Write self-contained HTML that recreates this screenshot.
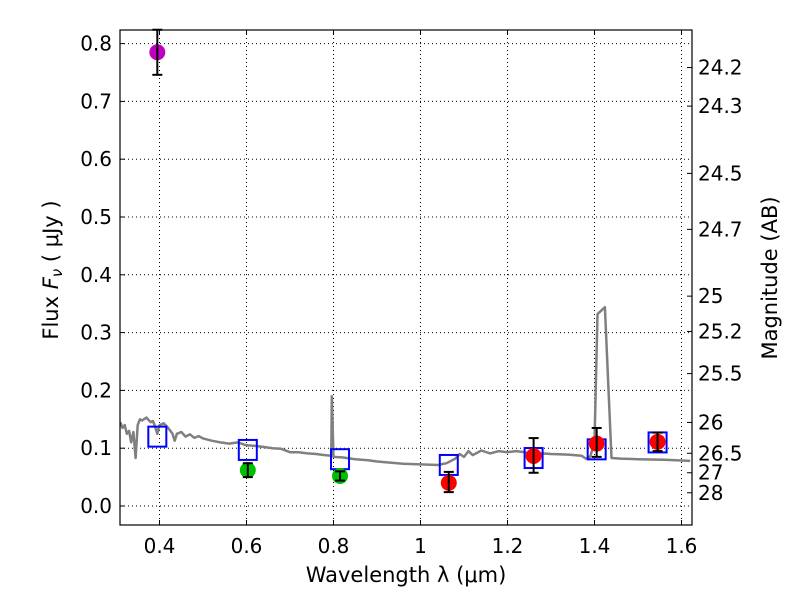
<!DOCTYPE html>
<html><head><meta charset="utf-8"><style>
html,body{margin:0;padding:0;background:#fff;}
svg text{font-family:"DejaVu Sans","Liberation Sans",sans-serif;fill:#000;}
</style></head><body>
<svg id="chart" width="800" height="600" viewBox="0 0 800 600" xmlns="http://www.w3.org/2000/svg"></svg>
<script>
const xTicks=[0.4,0.6,0.8,1.0,1.2,1.4,1.6];
const xTickLabels=["0.4","0.6","0.8","1","1.2","1.4","1.6"];
const yTicks=[0,0.1,0.2,0.3,0.4,0.5,0.6,0.7,0.8];
const yTickLabels=["0.0","0.1","0.2","0.3","0.4","0.5","0.6","0.7","0.8"];
const magTicks=[24.2,24.3,24.5,24.7,25,25.2,25.5,26,26.5,27,28];
const magTickLabels=["24.2","24.3","24.5","24.7","25","25.2","25.5","26","26.5","27","28"];
const modelWave=[0.395,0.603,0.815,1.065,1.26,1.405,1.545];
const modelFlux=[0.120,0.097,0.081,0.071,0.083,0.098,0.110];
const obsWave=[0.395,0.603,0.815,1.065,1.26,1.405,1.545];
const obsFlux=[0.785,0.062,0.052,0.040,0.0865,0.108,0.111];
const obsErrLo=[0.039,0.012,0.008,0.016,0.029,0.023,0.016];
const obsErrHi=[0.039,0.012,0.008,0.019,0.031,0.027,0.016];
const obsColor=["#bf00bf","#00bf00","#00bf00","#ff0000","#ff0000","#ff0000","#ff0000"];
const specWave=[0.31,0.315,0.32,0.325,0.33,0.335,0.34,0.345,0.35,0.355,0.36,0.37,0.38,0.385,0.39,0.395,0.40,0.41,0.42,0.43,0.435,0.44,0.45,0.46,0.47,0.48,0.49,0.50,0.52,0.54,0.56,0.58,0.60,0.62,0.64,0.66,0.68,0.70,0.72,0.74,0.76,0.78,0.795,0.796,0.80,0.82,0.85,0.88,0.90,0.93,0.96,1.00,1.04,1.06,1.08,1.09,1.10,1.11,1.12,1.14,1.16,1.18,1.20,1.22,1.24,1.26,1.28,1.30,1.34,1.37,1.38,1.39,1.40,1.407,1.424,1.439,1.46,1.50,1.56,1.62];
const specFlux=[0.145,0.135,0.140,0.125,0.130,0.110,0.128,0.083,0.140,0.150,0.148,0.153,0.145,0.147,0.137,0.125,0.140,0.143,0.135,0.125,0.113,0.125,0.128,0.120,0.124,0.118,0.121,0.117,0.113,0.110,0.108,0.110,0.105,0.104,0.102,0.100,0.099,0.093,0.093,0.091,0.090,0.088,0.087,0.19,0.085,0.084,0.081,0.079,0.077,0.075,0.073,0.072,0.071,0.074,0.082,0.090,0.085,0.095,0.088,0.096,0.091,0.095,0.093,0.095,0.093,0.088,0.091,0.090,0.089,0.087,0.082,0.085,0.110,0.332,0.344,0.083,0.082,0.081,0.080,0.078];

const svg=document.getElementById('chart');
const NS="http://www.w3.org/2000/svg";
const L=120,R=692,T=30,B=525;
const X0=0.4,XPX0=159.5,XS=435;
const YPX0=506,YS=578;
function xs(v){return XPX0+(v-X0)*XS;}
function ys(v){return YPX0-v*YS;}
function magToY(m){return ys(Math.pow(10,(23.9-m)/2.5));}
function mk(tag,attrs,parent){const e=document.createElementNS(NS,tag);for(const k in attrs)e.setAttribute(k,attrs[k]);(parent||svg).appendChild(e);return e;}

const grid=mk('g',{});


xTicks.forEach((v,i)=>{
  const x=xs(v);
  const gl=mk('line',{x1:x,x2:x,y1:T,y2:B,stroke:'#000','stroke-width':1,'stroke-dasharray':'1,3'},grid);
  
  
  mk('line',{x1:x,x2:x,y1:B,y2:B-5,stroke:'#000'},grid);
  mk('line',{x1:x,x2:x,y1:T,y2:T+5,stroke:'#000'},grid);
  const t=mk('text',{x:x,y:B+28,'text-anchor':'middle','font-size':20});
  t.textContent=xTickLabels[i];
  
  
});
yTicks.forEach((v,i)=>{
  const y=ys(v);
  const gl=mk('line',{x1:L,x2:R,y1:y,y2:y,stroke:'#000','stroke-width':1,'stroke-dasharray':'1,3'},grid);
  
  
  mk('line',{x1:L,x2:L+5,y1:y,y2:y,stroke:'#000'},grid);
  const t=mk('text',{x:L-8,y:y+7,'text-anchor':'end','font-size':20});
  t.textContent=yTickLabels[i];
  
  
});
magTicks.forEach((m,i)=>{
  const y=magToY(m);
  mk('line',{x1:R,x2:R-5,y1:y,y2:y,stroke:'#000'});
  const t=mk('text',{x:R+6,y:y+7,'text-anchor':'start','font-size':20});
  t.textContent=magTickLabels[i];
  
  
});

const clip=mk('clipPath',{id:'pc'});
mk('rect',{x:L,y:T,width:R-L,height:B-T},clip);
let d='';
specWave.forEach((w,i)=>{d+=(i?'L':'M')+xs(w).toFixed(1)+','+ys(specFlux[i]).toFixed(1);});
const sp=mk('path',{d:d,fill:'none',stroke:'#808080','stroke-width':2.5,'clip-path':'url(#pc)','stroke-linejoin':'round'});



modelWave.forEach((w,i)=>{
  const r=mk('rect',{x:xs(w)-9,y:ys(modelFlux[i])-10,width:18,height:20,fill:'none',stroke:'#0000ff','stroke-width':2});
  
  
});
obsWave.forEach((w,i)=>{
  const x=xs(w),y=ys(obsFlux[i]);
  const c=mk('circle',{cx:x,cy:y,r:8,fill:obsColor[i]});
  
  
  const y1=ys(obsFlux[i]+obsErrHi[i]),y2=ys(obsFlux[i]-obsErrLo[i]);
  const eb=mk('g',{stroke:'#000','stroke-width':2});
  
  
  mk('line',{x1:x,x2:x,y1:y1,y2:y2},eb);
  mk('line',{x1:x-5,x2:x+5,y1:y1,y2:y1},eb);
  mk('line',{x1:x-5,x2:x+5,y1:y2,y2:y2},eb);
});

const fr=mk('rect',{x:L,y:T,width:R-L,height:B-T,fill:'none',stroke:'#000','stroke-width':1.2});



const xl=mk('text',{x:406,y:582,'text-anchor':'middle','font-size':21});
xl.textContent='Wavelength  λ (μm)';


const yl=mk('text',{x:0,y:0,'text-anchor':'middle','font-size':21,transform:'translate(58,270) rotate(-90)'});


const s1=mk('tspan',{},yl);s1.textContent='Flux  ';
const s2=mk('tspan',{'font-style':'italic'},yl);s2.textContent='F';
const s3=mk('tspan',{'font-style':'italic','font-size':15,dy:4},yl);s3.textContent='ν';
const s4=mk('tspan',{dy:-4},yl);s4.textContent='  ( μJy )';
const ml=mk('text',{x:0,y:0,'text-anchor':'middle','font-size':21,transform:'translate(777,278) rotate(-90)'});
ml.textContent='Magnitude (AB)';


</script>
</body></html>
